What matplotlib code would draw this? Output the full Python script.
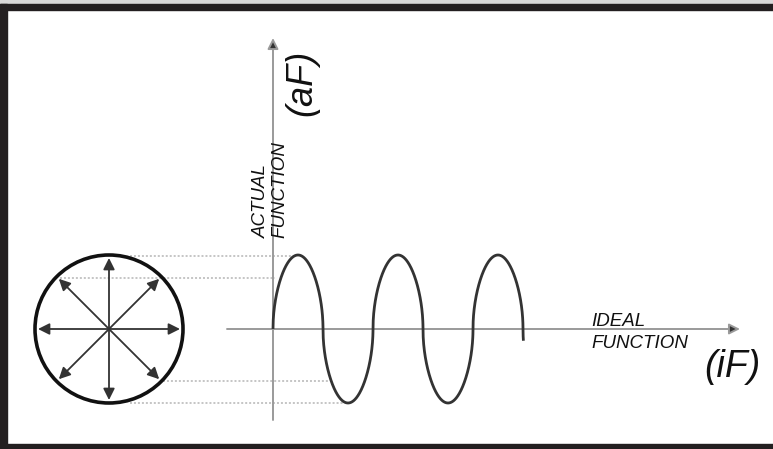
import numpy as np
import matplotlib.pyplot as plt
from matplotlib.patches import Circle, Rectangle

plt.rcParams['font.family'] = ['Liberation Sans', 'DejaVu Sans']

# diagram coordinates are in pixels, y grows downwards
origin = (273, 329)          # where the two axes cross
y_axis_span = (420, 38)      # bottom end, arrow tip
x_axis_span = (227, 740)     # left end, arrow tip

wave_period = 100
wave_amp = 74
wave_cycles = 2.504
wave_power = 0.5             # < 1 makes the lobes boxy like the drawing

circle_center = (109, 329)
circle_radius = 74
spoke_len = 71
spoke_angles = [0, 45, 90, 135, 180, 225, 270, 315]

# dotted guide lines: level, start x, end x
guide_y = [256, 278, 381, 403]
guide_x0 = [130, 60, 163, 130]
guide_x1 = [293, 275, 328, 343]

W, H = 773, 449
fig = plt.figure(figsize=(W / 100, H / 100), dpi=100)
ax = fig.add_axes([0, 0, 1, 1])
ax.set_xlim(0, W)
ax.set_ylim(H, 0)
ax.axis('off')

# frame
dark = '#231f20'
fig.patches.append(Rectangle((0, 1 - 4 / H), 1, 4 / H, transform=fig.transFigure,
                             color='#d8d8d8', zorder=0))
fig.patches.append(Rectangle((0, 1 - 10 / H), 1, 6 / H, transform=fig.transFigure,
                             color=dark, zorder=0))
fig.patches.append(Rectangle((0, 0), 7 / W, 1 - 4 / H, transform=fig.transFigure,
                             color=dark, zorder=0))
fig.patches.append(Rectangle((0, 0), 1, 5 / H, transform=fig.transFigure,
                             color=dark, zorder=0))

# guide lines
for gy, gx0, gx1 in zip(guide_y, guide_x0, guide_x1):
    ax.plot([gx0, gx1], [gy, gy], color='#b5b5b5', lw=1.1,
            linestyle=(0, (1.3, 1.3)), zorder=1)

# axes
axis_col = '#9a9a9a'
ax.annotate('', xy=(origin[0], y_axis_span[1]), xytext=(origin[0], y_axis_span[0]),
            arrowprops=dict(arrowstyle='-|>', color=axis_col, lw=1.4, mutation_scale=16,
                            shrinkA=0, shrinkB=0, fc='#333333', ec=axis_col))
ax.annotate('', xy=(x_axis_span[1], origin[1]), xytext=(x_axis_span[0], origin[1]),
            arrowprops=dict(arrowstyle='-|>', color=axis_col, lw=1.4, mutation_scale=16,
                            shrinkA=0, shrinkB=0, fc='#333333', ec=axis_col))

# wave
t = np.linspace(0, wave_cycles * 2 * np.pi, 2000)
s = np.sin(t)
wx = origin[0] + t / (2 * np.pi) * wave_period
wy = origin[1] - wave_amp * np.sign(s) * np.abs(s) ** wave_power
ax.plot(wx, wy, color='#333333', lw=2.0, solid_capstyle='butt', zorder=3)

# circle with spokes
ax.add_patch(Circle(circle_center, circle_radius, fill=False, lw=2.6, ec='#111111', zorder=3))
for a in spoke_angles:
    r = np.deg2rad(a)
    tip = (circle_center[0] + spoke_len * np.cos(r), circle_center[1] - spoke_len * np.sin(r))
    ax.annotate('', xy=tip, xytext=circle_center,
                arrowprops=dict(arrowstyle='-|>', color='#333333', lw=1.3,
                                mutation_scale=17, shrinkA=0, shrinkB=0), zorder=3)

# labels
tc = '#111111'
ax.text(302, 83, '(aF)', rotation=90, ha='center', va='center', fontsize=26,
        style='italic', color=tc)
ax.text(261, 238, 'ACTUAL', rotation=90, ha='center', va='bottom', fontsize=13.5,
        style='italic', color=tc)
ax.text(280, 238, 'FUNCTION', rotation=90, ha='center', va='bottom', fontsize=13.5,
        style='italic', color=tc)
ax.text(591, 321, 'IDEAL', ha='left', va='center', fontsize=13.5, style='italic', color=tc)
ax.text(591, 343, 'FUNCTION', ha='left', va='center', fontsize=13.5, style='italic', color=tc)
ax.text(732, 367, '(iF)', ha='center', va='center', fontsize=27, style='italic', color=tc)

fig.savefig('out.png', dpi=100)
